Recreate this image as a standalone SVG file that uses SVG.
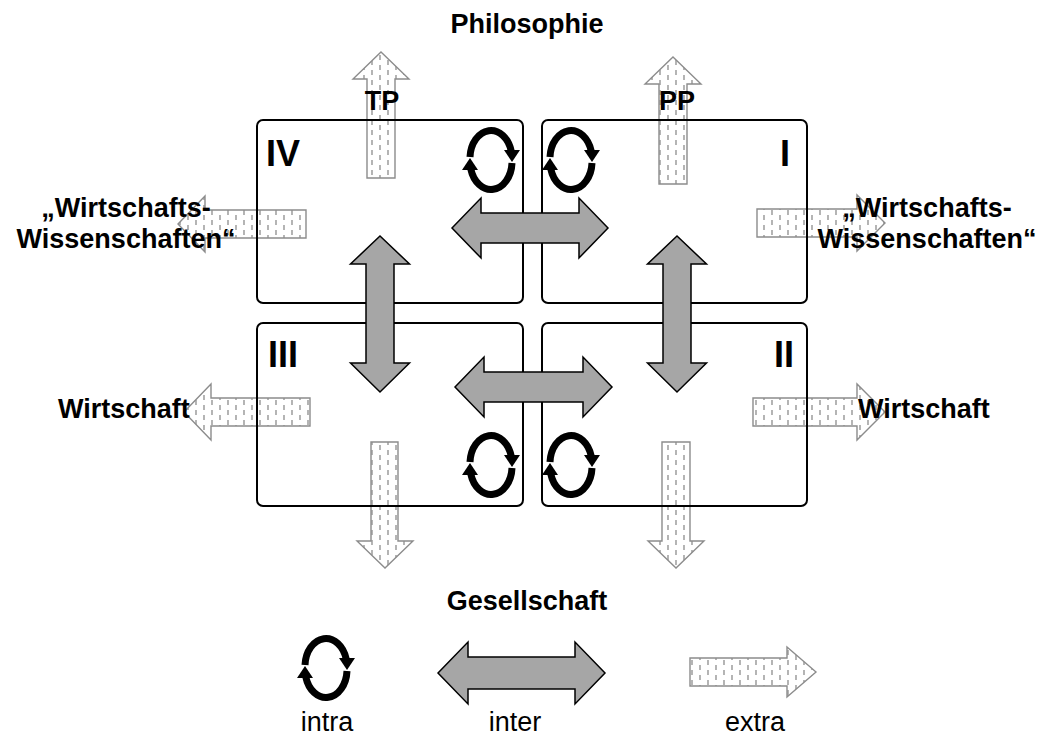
<svg xmlns="http://www.w3.org/2000/svg" width="1045" height="740" viewBox="0 0 1045 740">
<style>
.box{fill:none;stroke:#000;stroke-width:2}
.inter{fill:#a6a6a6;stroke:#000;stroke-width:1.5;stroke-linejoin:miter}
.extra{fill:url(#dash);stroke:#8c8c8c;stroke-width:1.4}
.ic{fill:none;stroke:#000;stroke-width:7}
.b{font-family:"Liberation Sans",Arial,sans-serif;font-weight:bold;font-size:27px;fill:#000}
.num{font-family:"Liberation Sans",Arial,sans-serif;font-weight:bold;font-size:36px;fill:#000}
.r{font-family:"Liberation Sans",Arial,sans-serif;font-size:27px;fill:#000}
.m{text-anchor:middle}
</style>
<defs>
<pattern id="dash" patternUnits="userSpaceOnUse" width="16" height="10">
<line x1="4" y1="0" x2="4" y2="5" stroke="#8c8c8c" stroke-width="1.3"/>
<line x1="12" y1="5" x2="12" y2="10" stroke="#8c8c8c" stroke-width="1.3"/>
</pattern>
<g id="intra">
<path class="ic" d="M -21,-3 A 21 28 0 0 1 20.2,-9"/>
<polygon points="21,2 13,-10 29,-10" fill="#000"/>
<path class="ic" d="M 21,3 A 21 28 0 0 1 -20.2,9"/>
<polygon points="-21,-2 -13,10 -29,10" fill="#000"/>
</g>
</defs>

<g id="extra-arrows">
<polygon class="extra" points="381,52 409,79 395,79 395,178 367,178 367,79 353,79"/>
<polygon class="extra" points="673,57 701,84 687,84 687,184 659,184 659,84 645,84"/>
<polygon class="extra" points="178,224 205,196 205,210 306,210 306,238 205,238 205,252"/>
<polygon class="extra" points="885,223 857,195 857,209 757,209 757,237 857,237 857,251"/>
<polygon class="extra" points="184,412 211,384 211,398 310,398 310,426 211,426 211,440"/>
<polygon class="extra" points="885,412 857,384 857,398 753,398 753,426 857,426 857,440"/>
<polygon class="extra" points="371,442 398,442 398,541 413,541 385,568 357,541 371,541"/>
<polygon class="extra" points="662,442 690,442 690,541 704,541 676,568 648,541 662,541"/>
</g>

<g id="node-IV"><rect class="box" x="257" y="120" width="266" height="183" rx="6"/><text class="num" x="266" y="166">IV</text></g>
<g id="node-I"><rect class="box" x="542" y="120" width="265" height="183" rx="6"/><text class="num" x="780" y="166">I</text></g>
<g id="node-III"><rect class="box" x="257" y="323" width="266" height="183" rx="6"/><text class="num" x="268" y="367">III</text></g>
<g id="node-II"><rect class="box" x="542" y="323" width="265" height="183" rx="6"/><text class="num" x="774" y="367">II</text></g>

<g id="inter-arrows">
<polygon class="inter" points="452,228 481,198 481,213 579,213 579,198 608,228 579,258 579,243 481,243 481,258"/>
<polygon class="inter" points="455,387 484,357 484,372 583,372 583,357 612,387 583,417 583,402 484,402 484,417"/>
<polygon class="inter" points="380,236 409.5,264 394,264 394,363 409.5,363 380,392 350.5,363 366,363 366,264 350.5,264"/>
<polygon class="inter" points="677,236 706.5,264 691,264 691,363 706.5,363 677,392 647.5,363 663,363 663,264 647.5,264"/>
</g>

<g id="intra-loops">
<use href="#intra" x="491" y="160"/>
<use href="#intra" x="571" y="160"/>
<use href="#intra" x="491" y="465"/>
<use href="#intra" x="571" y="465"/>
</g>

<g id="labels">
<text class="b m" x="527" y="33">Philosophie</text>
<text class="b m" x="382" y="110">TP</text>
<text class="b m" x="677" y="110">PP</text>
<text class="b m" x="126" y="217">„Wirtschafts-</text>
<text class="b m" x="126" y="248">Wissenschaften“</text>
<text class="b m" x="927" y="217">„Wirtschafts-</text>
<text class="b m" x="927" y="248">Wissenschaften“</text>
<text class="b" x="58" y="418">Wirtschaft</text>
<text class="b" x="858" y="418">Wirtschaft</text>
<text class="b m" x="527" y="610">Gesellschaft</text>
</g>

<g id="legend">
<use href="#intra" x="326" y="668"/>
<polygon class="inter" points="438,673 468,642 468,657 575,657 575,642 605,673 575,704 575,689 468,689 468,704"/>
<polygon class="extra" points="816,672 787,647 787,658 690,658 690,686 787,686 787,697"/>
<text class="r m" x="327" y="731">intra</text>
<text class="r m" x="515" y="731">inter</text>
<text class="r m" x="755" y="731">extra</text>
</g>
</svg>
